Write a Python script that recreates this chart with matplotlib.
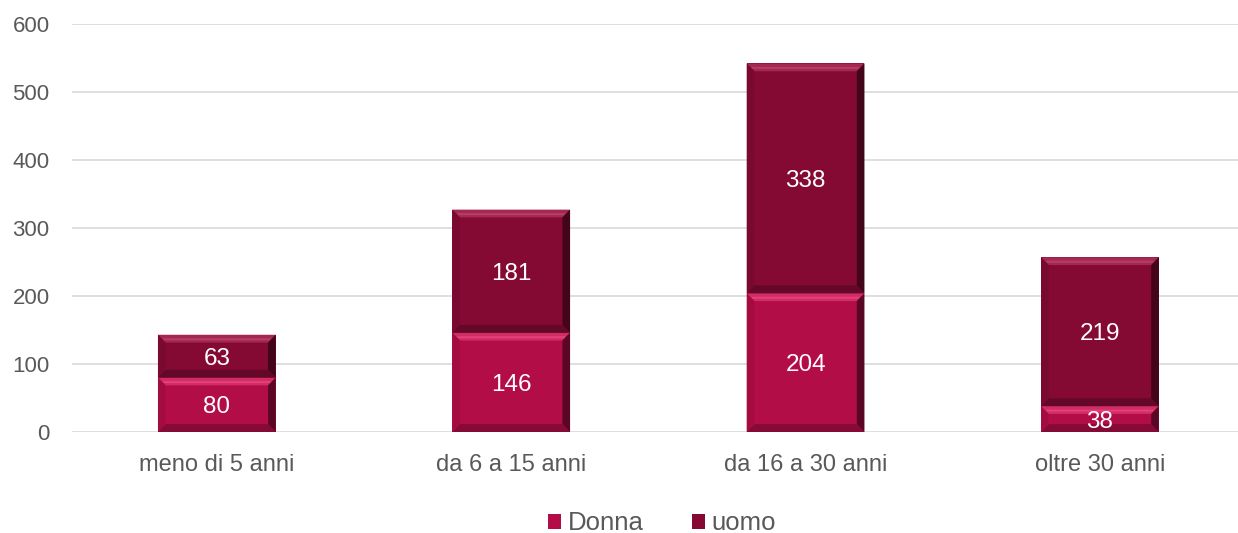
import matplotlib.pyplot as plt
from matplotlib.patches import Polygon, Patch
import numpy as np

plt.rcParams['font.family'] = ['Liberation Sans', 'DejaVu Sans']

categories = ["meno di 5 anni", "da 6 a 15 anni", "da 16 a 30 anni", "oltre 30 anni"]
donna = [80, 146, 204, 38]
uomo = [63, 181, 338, 219]

C_DONNA = "#B20D47"
C_UOMO = "#840A34"
GRAY = "#595959"

fig = plt.figure(figsize=(12.38, 5.33), dpi=100)
ax = fig.add_axes([0.058, 0.1895, 0.942, 0.7655])

x = np.arange(len(categories))
W = 0.4
b1 = ax.bar(x, donna, W, color=C_DONNA, zorder=2, label="Donna")
b2 = ax.bar(x, uomo, W, bottom=donna, color=C_UOMO, zorder=2, label="uomo")

ax.set_xlim(-0.4927, 3.469)
ax.set_ylim(0, 600)


def bevel(bar, base):
    # simple bevel look: lighter top, dark right and bottom
    x0, y0 = bar.get_x(), bar.get_y()
    w, h = bar.get_width(), bar.get_height()
    dx = 0.026
    dy = min(11.5, h / 2.5)
    x1, y1 = x0 + w, y0 + h
    rgb = np.array(plt.matplotlib.colors.to_rgb(base))
    light = np.clip(rgb + 0.12, 0, 1)
    stripe = np.clip(rgb + 0.2, 0, 1)
    dark = rgb * 0.5
    mid = rgb * 0.75
    faces = [
        ([(x0, y1), (x1, y1), (x1 - dx, y1 - dy), (x0 + dx, y1 - dy)], light),
        ([(x0 + dx * 0.6, y1 - dy * 0.45), (x1 - dx * 0.6, y1 - dy * 0.45),
          (x1 - dx * 0.75, y1 - dy * 0.7), (x0 + dx * 0.75, y1 - dy * 0.7)], stripe),
        ([(x1, y1), (x1, y0), (x1 - dx, y0 + dy), (x1 - dx, y1 - dy)], dark),
        ([(x0, y0), (x1, y0), (x1 - dx, y0 + dy), (x0 + dx, y0 + dy)], mid),
        ([(x0, y0), (x0, y1), (x0 + dx, y1 - dy), (x0 + dx, y0 + dy)], rgb * 0.92),
    ]
    for pts, c in faces:
        ax.add_patch(Polygon(pts, closed=True, facecolor=c, edgecolor="none", zorder=3))


for bar in b1:
    bevel(bar, C_DONNA)
for bar in b2:
    bevel(bar, C_UOMO)

for i in range(len(categories)):
    ax.text(x[i], donna[i] / 2, str(donna[i]), ha="center", va="center_baseline",
            color="white", fontsize=17.5, zorder=4)
    ax.text(x[i], donna[i] + uomo[i] / 2, str(uomo[i]), ha="center", va="center_baseline",
            color="white", fontsize=17.5, zorder=4)

ax.set_yticks(range(0, 601, 100))
ax.yaxis.grid(True, color="#D9D9D9", lw=1.2)
ax.set_axisbelow(True)
for s in ax.spines.values():
    s.set_visible(False)
ax.tick_params(axis="y", length=0, labelsize=16, colors=GRAY, pad=16)
ax.tick_params(axis="x", length=0, labelsize=17, colors=GRAY, pad=16)
ax.set_xticks(x)
ax.set_xticklabels(categories)

handles = [Patch(facecolor=C_DONNA, label="Donna"), Patch(facecolor=C_UOMO, label="uomo")]
leg = fig.legend(handles=handles, loc="center", bbox_to_anchor=(0.535, 0.018),
                 ncol=2, frameon=False, fontsize=18.5, handlelength=0.5,
                 handleheight=0.5, handletextpad=0.25, columnspacing=1.9,
                 labelcolor=GRAY)

fig.savefig("out.png", dpi=100)
